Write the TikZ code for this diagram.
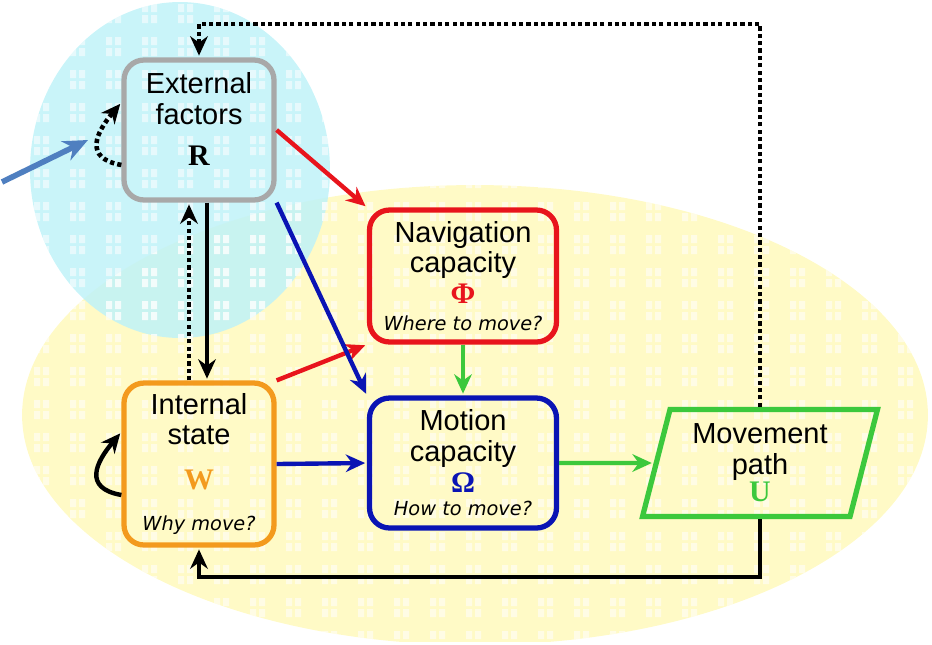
\documentclass[tikz,border=0pt]{standalone}
\usepackage{fontspec}
\setmainfont{Liberation Sans}
\newfontfamily\letterfont{Liberation Serif}
\newfontfamily\askfont{DejaVu Sans}
\usetikzlibrary{arrows.meta, shapes.geometric}

\definecolor{extgray}{HTML}{A8A8A8}
\definecolor{navred}{HTML}{E8141C}
\definecolor{motblue}{HTML}{0A14B4}
\definecolor{pathgreen}{HTML}{3CC83C}
\definecolor{intorange}{HTML}{F39A1E}
\definecolor{skycyan}{HTML}{BFF2F8}
\definecolor{paleyellow}{HTML}{FFFAC6}
\definecolor{pointblue}{HTML}{4F7FC0}

\newcommand{\varletter}[2]{{\color{#1}\letterfont\bfseries\fontsize{17}{17}\selectfont #2}}
\newcommand{\askline}[1]{{\askfont\itshape\fontsize{11}{13}\selectfont #1}}
\newcommand{\windows}{%
    \foreach \x in {34,70,...,930}
        \foreach \y in {4,37,...,640}
            \fill[white, opacity=0.55] (\x,\y) rectangle ++(6,8) (\x+9,\y) rectangle ++(6,8)
                (\x,\y+11) rectangle ++(6,8) (\x+9,\y+11) rectangle ++(6,8);}

\begin{document}
\begin{tikzpicture}[
            x = 0.02cm, y = -0.02cm, % pixel grid of the figure
            > = {Stealth[length=11pt, width=10pt]}, % arrow head style
            shorten > = 1pt, % don't touch arrow head to node
            line width = 2.5pt % line style
        ]

        \tikzstyle{box}=[
            draw,
            line width = 3pt,
            rounded corners = 0.4cm,
            align = center,
            font = \fontsize{16.5}{17.5}\selectfont
        ]
        \tikzstyle{dots}=[
            line width = 2.6pt,
            dash pattern = on 2.4pt off 1.8pt
        ]

        % background areas
        \begin{scope}
            \clip (0,0) rectangle (932,641);
            \fill[paleyellow] (475,415) ellipse [x radius=9.06cm, y radius=4.6cm];
            \fill[skycyan, opacity=0.85] (180,170) ellipse [x radius=3cm, y radius=3.36cm];
        \end{scope}
        \begin{scope}
            \clip (475,415) ellipse [x radius=9.06cm, y radius=4.6cm];
            \windows
        \end{scope}
        \begin{scope}
            \clip (180,170) ellipse [x radius=3cm, y radius=3.36cm];
            \windows
        \end{scope}
        \useasboundingbox (0,0) rectangle (932,641);

        \node[box, draw=extgray, minimum width=3cm, minimum height=2.8cm] (r) at (199,130)
            {External\\factors\\[6pt]\varletter{black}{R}\rule[-12pt]{0pt}{12pt}};
        \node[box, draw=intorange, minimum width=3cm, minimum height=3.24cm] (w) at (199,464)
            {Internal\\state\\[8pt]\varletter{intorange}{W}\\[6pt]\askline{Why move?}};
        \node[box, draw=navred, minimum width=3.74cm, minimum height=2.64cm] (p) at (463,276)
            {Navigation\\capacity\\[0pt]\varletter{navred}{Φ}\\[-2pt]\askline{Where to move?}};
        \node[box, draw=motblue, minimum width=3.74cm, minimum height=2.6cm] (o) at (463,463)
            {Motion\\capacity\\[0pt]\varletter{motblue}{Ω}\\[-4pt]\askline{How to move?}};
        \node[draw=pathgreen, line width=3pt, trapezium, trapezium left angle=76,
            trapezium right angle=104, trapezium stretches=true,
            minimum width=4.7cm, minimum height=2.14cm, align=center,
            font=\fontsize{16.5}{17.5}\selectfont] (u) at (760,463)
            {Movement\\path\\[-2pt]\varletter{pathgreen}{U}};

        \coordinate (tail) at (2,182);
        \coordinate (head) at (88,140);

        \path[->, navred] (r.east) edge (p.north west);
        \path[->, navred] (w.north east) edge (p.south west);
        \path[->, motblue] (r.south east) edge (o.north west);
        \path[->, motblue] (w.east) edge (o.west);
        \path[->, pathgreen] (p.south) edge (o.north);
        \path[->, pathgreen] (o.east) edge (u);
        \path[->] ([xshift=0.16cm]r.south) edge ([xshift=0.16cm]w.north);
        \path[->, dots] ([xshift=-0.2cm]w.north) edge ([xshift=-0.2cm]r.south);

        \draw[->] (u.south) -- ++(0,58) -| (w.south);
        \draw[->, dots] (u.north) -- ++(0,-383) -| (r.north);

        \draw[->, dots] ([yshift=-0.7cm]r.west) to[out=170, in=230, looseness=1.6] ([yshift=0.55cm]r.west);
        \draw[->] ([yshift=-0.62cm]w.west) to[out=170, in=230, looseness=1.6] ([yshift=0.64cm]w.west);

        \draw[->, pointblue, line width=3.2pt, shorten >=0pt,
            >={Stealth[length=14pt, width=12pt]}] (tail) -- (head);

  \end{tikzpicture}
\end{document}
